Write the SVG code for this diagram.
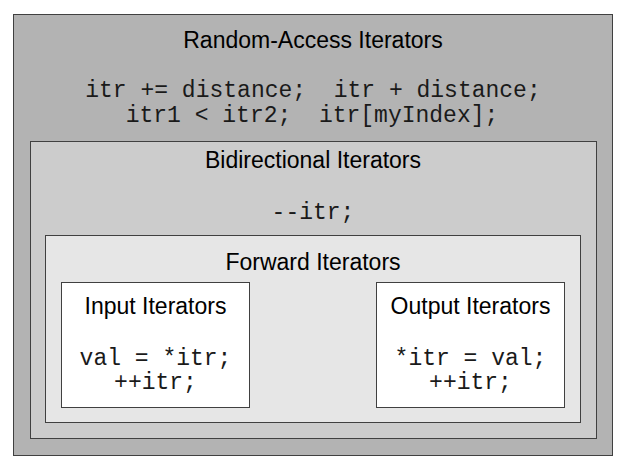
<svg xmlns="http://www.w3.org/2000/svg" width="623" height="464" viewBox="0 0 623 464">
<style>
.box{stroke:#404040;stroke-width:1}
.t{font-family:"Liberation Sans",Arial,sans-serif;font-size:23px;fill:#000;text-anchor:middle}
.c{font-family:"Liberation Mono","Courier New",monospace;font-size:23px;fill:#1a1a1a;text-anchor:middle;white-space:pre}
</style>
<rect width="623" height="464" fill="#fff"/>
<g id="random-access">
<rect class="box" x="13.5" y="14.5" width="599" height="441" fill="#b3b3b3"/>
<text class="t" x="313" y="48">Random-Access Iterators</text>
<text class="c" x="313" y="97" xml:space="preserve">itr += distance;  itr + distance;</text>
<text class="c" x="312" y="122" xml:space="preserve">itr1 &lt; itr2;  itr[myIndex];</text>
</g>
<g id="bidirectional">
<rect class="box" x="30.5" y="141.5" width="566" height="297" fill="#cccccc"/>
<text class="t" x="313" y="168">Bidirectional Iterators</text>
<text class="c" x="313" y="219">--itr;</text>
</g>
<g id="forward">
<rect class="box" x="45.5" y="235.5" width="535" height="187" fill="#e6e6e6"/>
<text class="t" x="313" y="270">Forward Iterators</text>
</g>
<g id="input">
<rect class="box" x="61.5" y="282.5" width="188" height="125" fill="#fff"/>
<text class="t" x="155.5" y="314">Input Iterators</text>
<text class="c" x="155.5" y="365">val = *itr;</text>
<text class="c" x="155.5" y="389">++itr;</text>
</g>
<g id="output">
<rect class="box" x="376.5" y="282.5" width="188" height="125" fill="#fff"/>
<text class="t" x="470.5" y="314">Output Iterators</text>
<text class="c" x="470.5" y="365">*itr = val;</text>
<text class="c" x="470.5" y="389">++itr;</text>
</g>
<g id="connectors"/>
</svg>
